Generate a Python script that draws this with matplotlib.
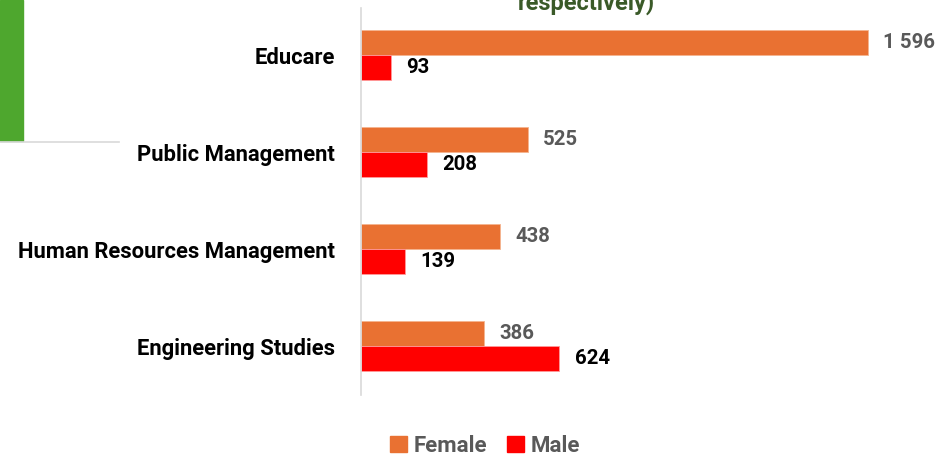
import matplotlib
matplotlib.use('Agg')
import matplotlib.pyplot as plt
import numpy as np
from matplotlib.patches import Rectangle
from matplotlib.lines import Line2D

categories = ['Educare', 'Public Management', 'Human Resources Management', 'Engineering Studies']
female = [1596, 525, 438, 386]
male = [93, 208, 139, 624]
series = ['Female', 'Male']
title_tail = 'respectively)'

ORANGE = '#E97132'
RED = '#FF0000'
GREY = '#595959'

plt.rcParams['font.family'] = ['Roboto', 'DejaVu Sans']
plt.rcParams['font.weight'] = 'bold'

fig = plt.figure(figsize=(9.41, 4.58), dpi=100)
ax = fig.add_axes([361 / 941, 1 - 395 / 458, (933 - 361) / 941, (395 - 8) / 458])

y = np.arange(len(categories))
h = 0.258
ax.barh(y - h / 2, female, height=h, color=ORANGE, edgecolor='#f5b48f', linewidth=0.6)
ax.barh(y + h / 2, male, height=h, color=RED, edgecolor='#ff9a9a', linewidth=0.6)

for i in range(len(categories)):
    ax.annotate(f'{female[i]:,}'.replace(',', ' '), (female[i], y[i] - h / 2),
                xytext=(11, 0), textcoords='offset points', va='center', ha='left',
                fontsize=14.7, fontweight='bold', color=GREY)
    ax.annotate(f'{male[i]:,}'.replace(',', ' '), (male[i], y[i] + h / 2),
                xytext=(11, 0), textcoords='offset points', va='center', ha='left',
                fontsize=14.7, fontweight='bold', color='black')

ax.set_xlim(0, 1800)
ax.set_ylim(3.505, -0.485)
ax.set_yticks(y)
ax.set_yticklabels(categories, fontsize=15.8, fontweight='bold', color='black')
ax.tick_params(axis='y', length=0, pad=19)
ax.set_xticks([])
for s in ['top', 'right', 'bottom']:
    ax.spines[s].set_visible(False)
ax.spines['left'].set_color('#d9d9d9')
ax.spines['left'].set_linewidth(1.2)

# cut-off title and slide decoration
fig.text(586 / 941, 1 - 10 / 458, title_tail, ha='center', va='baseline',
         fontsize=17, fontweight='bold', color='#3A5A28')
fig.patches.append(Rectangle((0, 1 - 141 / 458), 23 / 941, 141 / 458,
                             transform=fig.transFigure, color='#4EA72E', zorder=0))
fig.lines.append(Line2D([0, 119 / 941], [1 - 142 / 458] * 2, transform=fig.transFigure,
                        color='#d9d9d9', linewidth=1.2))

handles = [Rectangle((0, 0), 1, 1, color=ORANGE), Rectangle((0, 0), 1, 1, color=RED)]
leg = fig.legend(handles, series, loc='center', bbox_to_anchor=(485 / 941, 1 - 446 / 458),
                 ncol=2, frameon=False, handlelength=0.75, handleheight=0.75,
                 handletextpad=0.3, columnspacing=0.9,
                 prop={'size': 16, 'weight': 'bold'})
for t in leg.get_texts():
    t.set_color(GREY)

fig.savefig('out.png', dpi=100)
